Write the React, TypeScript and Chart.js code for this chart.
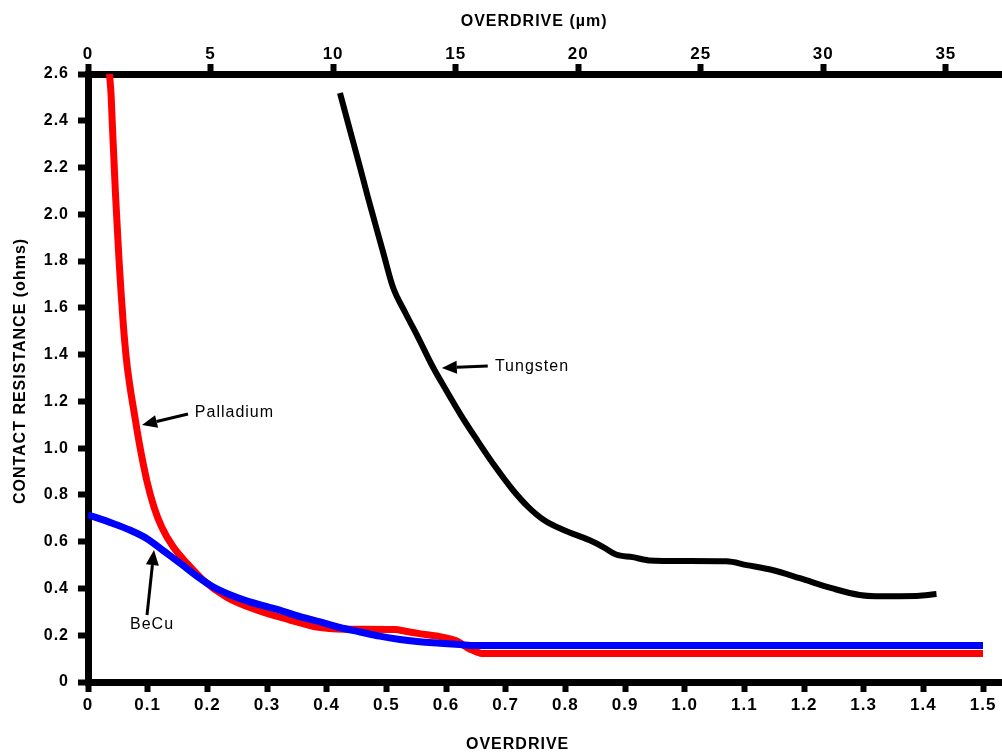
import React, { useEffect, useRef } from 'react';
import { Chart, registerables } from 'chart.js';

Chart.register(...registerables);

// ---- Data ----
const palladiumX = [0.036, 0.0385, 0.041, 0.0435, 0.046, 0.049, 0.052, 0.0555, 0.0595, 0.0645, 0.0705, 0.0775, 0.0871, 0.0983, 0.1106, 0.1235, 0.143, 0.1654, 0.193, 0.2324, 0.2827, 0.3385, 0.383, 0.43, 0.515, 0.53, 0.555, 0.588, 0.61, 0.62, 0.635, 0.645, 0.652, 0.66, 1.5];
const palladiumY = [2.6, 2.519, 2.373, 2.232, 2.091, 1.946, 1.805, 1.663, 1.518, 1.377, 1.26, 1.15, 1.005, 0.864, 0.748, 0.663, 0.577, 0.509, 0.436, 0.363, 0.308, 0.265, 0.235, 0.226, 0.224, 0.218, 0.207, 0.195, 0.182, 0.173, 0.148, 0.135, 0.128, 0.122, 0.122];

const becuX = [0, 0.042, 0.07, 0.099, 0.126, 0.154, 0.183, 0.21, 0.238, 0.267, 0.3, 0.33, 0.36, 0.389, 0.422, 0.456, 0.489, 0.523, 0.556, 0.59, 0.623, 0.65, 1.5];
const becuY = [0.715, 0.678, 0.65, 0.613, 0.562, 0.509, 0.452, 0.406, 0.373, 0.346, 0.322, 0.3, 0.276, 0.257, 0.233, 0.214, 0.196, 0.182, 0.172, 0.166, 0.16, 0.156, 0.156];

const tungstenX = [0.4223, 0.439, 0.454, 0.469, 0.481, 0.495, 0.511, 0.532, 0.553, 0.578, 0.6, 0.627, 0.652, 0.683, 0.712, 0.738, 0.764, 0.797, 0.84, 0.865, 0.885, 0.913, 0.94, 1.0, 1.07, 1.104, 1.147, 1.193, 1.248, 1.293, 1.32, 1.389, 1.422];
const tungstenY = [2.519, 2.36, 2.219, 2.074, 1.963, 1.834, 1.689, 1.578, 1.475, 1.347, 1.249, 1.133, 1.035, 0.919, 0.821, 0.748, 0.693, 0.65, 0.607, 0.575, 0.545, 0.534, 0.52, 0.517, 0.516, 0.5, 0.479, 0.444, 0.4, 0.372, 0.367, 0.368, 0.376];

// Axis ranges / ticks
const xMin = 0;
const xMax = 1.5318;
const xStep = 0.1;
const x2Max = 37.29;
const x2Step = 5;
const yMin = 0;
const yMax = 2.6;
const yStep = 0.2;

const bottomTitle = 'OVERDRIVE';
const topTitle = 'OVERDRIVE (µm)';
const yTitle = 'CONTACT RESISTANCE (ohms)';

// Callout labels (anchored in data coordinates)
const callouts = [
  { text: 'Palladium', tx: 0.179, ty: 1.15, tail: [0.1676, 1.146], tip: [0.0905, 1.099] },
  { text: 'Tungsten', tx: 0.682, ty: 1.347, tail: [0.67, 1.351], tip: [0.593, 1.343] },
  { text: 'BeCu', tx: 0.0704, ty: 0.244, tail: [0.0989, 0.2865], tip: [0.1106, 0.564] },
];

const toPoints = (xs: number[], ys: number[]) => xs.map((x, i) => ({ x, y: ys[i] }));

const FONT = '"Liberation Sans", Arial, sans-serif';

const overlayPlugin = {
  id: 'overlay',
  beforeDraw(chart: any) {
    (chart.ctx as any).letterSpacing = '1px';
  },
  afterDraw(chart: any) {
    const ctx = chart.ctx as CanvasRenderingContext2D;
    const xs = chart.scales.x;
    const x2s = chart.scales.x2;
    const ys = chart.scales.y;
    const area = chart.chartArea;
    ctx.save();
    (ctx as any).letterSpacing = '1px';
    ctx.fillStyle = '#000';
    ctx.strokeStyle = '#000';
    ctx.font = `bold 16px ${FONT}`;
    ctx.textAlign = 'center';
    ctx.textBaseline = 'middle';
    ctx.fillText(bottomTitle, xs.getPixelForValue(0.72), area.bottom + 63);
    ctx.fillText(topTitle, x2s.getPixelForValue(18.2), area.top - 52);
    ctx.save();
    ctx.translate(21, ys.getPixelForValue(1.33));
    ctx.rotate(-Math.PI / 2);
    ctx.fillText(yTitle, 0, 0);
    ctx.restore();

    ctx.font = `16px ${FONT}`;
    ctx.textAlign = 'left';
    callouts.forEach((c) => {
      ctx.fillText(c.text, xs.getPixelForValue(c.tx), ys.getPixelForValue(c.ty));
      const x0 = xs.getPixelForValue(c.tail[0]);
      const y0 = ys.getPixelForValue(c.tail[1]);
      const x1 = xs.getPixelForValue(c.tip[0]);
      const y1 = ys.getPixelForValue(c.tip[1]);
      const ang = Math.atan2(y1 - y0, x1 - x0);
      const headLen = 15;
      const headHalf = 6.5;
      const bx = x1 - headLen * Math.cos(ang);
      const by = y1 - headLen * Math.sin(ang);
      ctx.lineWidth = 3;
      ctx.beginPath();
      ctx.moveTo(x0, y0);
      ctx.lineTo(bx, by);
      ctx.stroke();
      ctx.beginPath();
      ctx.moveTo(x1, y1);
      ctx.lineTo(bx + headHalf * Math.sin(ang), by - headHalf * Math.cos(ang));
      ctx.lineTo(bx - headHalf * Math.sin(ang), by + headHalf * Math.cos(ang));
      ctx.closePath();
      ctx.fill();
    });
    ctx.restore();
  },
};

const fmt1 = (v: number) => (Math.abs(v) < 1e-9 ? '0' : Number(v).toFixed(1));

export default function App() {
  const canvasRef = useRef<HTMLCanvasElement | null>(null);

  useEffect(() => {
    if (!canvasRef.current) return;
    const tickFont = { family: FONT, weight: 'bold' as const, size: 16 };
    const axisCommon = {
      border: { display: true, width: 7, color: '#000' },
      grid: {
        display: true,
        drawOnChartArea: false,
        drawTicks: true,
        tickLength: 10,
        tickWidth: 6,
        tickColor: '#000',
      },
    };
    const chart = new Chart(canvasRef.current, {
      type: 'line',
      data: {
        datasets: [
          {
            label: 'BeCu',
            data: toPoints(becuX, becuY),
            borderColor: '#0000ff',
            borderWidth: 7,
            pointRadius: 0,
            cubicInterpolationMode: 'monotone',
            order: 0,
            xAxisID: 'x',
            yAxisID: 'y',
          },
          {
            label: 'Palladium',
            data: toPoints(palladiumX, palladiumY),
            borderColor: '#ff0000',
            borderWidth: 7,
            pointRadius: 0,
            cubicInterpolationMode: 'monotone',
            order: 1,
            xAxisID: 'x',
            yAxisID: 'y',
          },
          {
            label: 'Tungsten',
            data: toPoints(tungstenX, tungstenY),
            borderColor: '#000000',
            borderWidth: 6,
            pointRadius: 0,
            cubicInterpolationMode: 'monotone',
            order: 2,
            xAxisID: 'x',
            yAxisID: 'y',
          },
        ],
      },
      options: {
        animation: false,
        responsive: false,
        devicePixelRatio: 1,
        layout: { padding: 0 },
        plugins: {
          legend: { display: false },
          tooltip: { enabled: false },
          title: { display: false },
        },
        scales: {
          x: {
            type: 'linear',
            position: 'bottom',
            min: xMin,
            max: xMax,
            afterFit: (s: any) => {
              s.height = 72;
            },
            ...axisCommon,
            ticks: {
              stepSize: xStep,
              includeBounds: false,
              autoSkip: false,
              maxRotation: 0,
              padding: 3,
              color: '#000',
              font: { ...tickFont, size: 17 },
              callback: (v: any) => fmt1(Number(v)),
            },
          },
          x2: {
            type: 'linear',
            position: 'top',
            min: 0,
            max: x2Max,
            afterFit: (s: any) => {
              s.height = 74;
            },
            ...axisCommon,
            ticks: {
              stepSize: x2Step,
              includeBounds: false,
              autoSkip: false,
              maxRotation: 0,
              padding: -1,
              color: '#000',
              font: { ...tickFont, size: 17 },
              callback: (v: any) => String(Math.round(Number(v))),
            },
          },
          y: {
            type: 'linear',
            position: 'left',
            min: yMin,
            max: yMax,
            afterFit: (s: any) => {
              s.width = 88;
            },
            ...axisCommon,
            ticks: {
              stepSize: yStep,
              includeBounds: false,
              autoSkip: false,
              padding: 9,
              color: '#000',
              font: tickFont,
              callback: (v: any) => fmt1(Number(v)),
            },
          },
        },
      } as any,
      plugins: [overlayPlugin],
    });
    return () => chart.destroy();
  }, []);

  return (
    <div style={{ position: 'fixed', left: 0, top: 0, width: 1002, height: 754, background: '#fff' }}>
      <canvas ref={canvasRef} width={1002} height={754} style={{ display: 'block' }} />
    </div>
  );
}
